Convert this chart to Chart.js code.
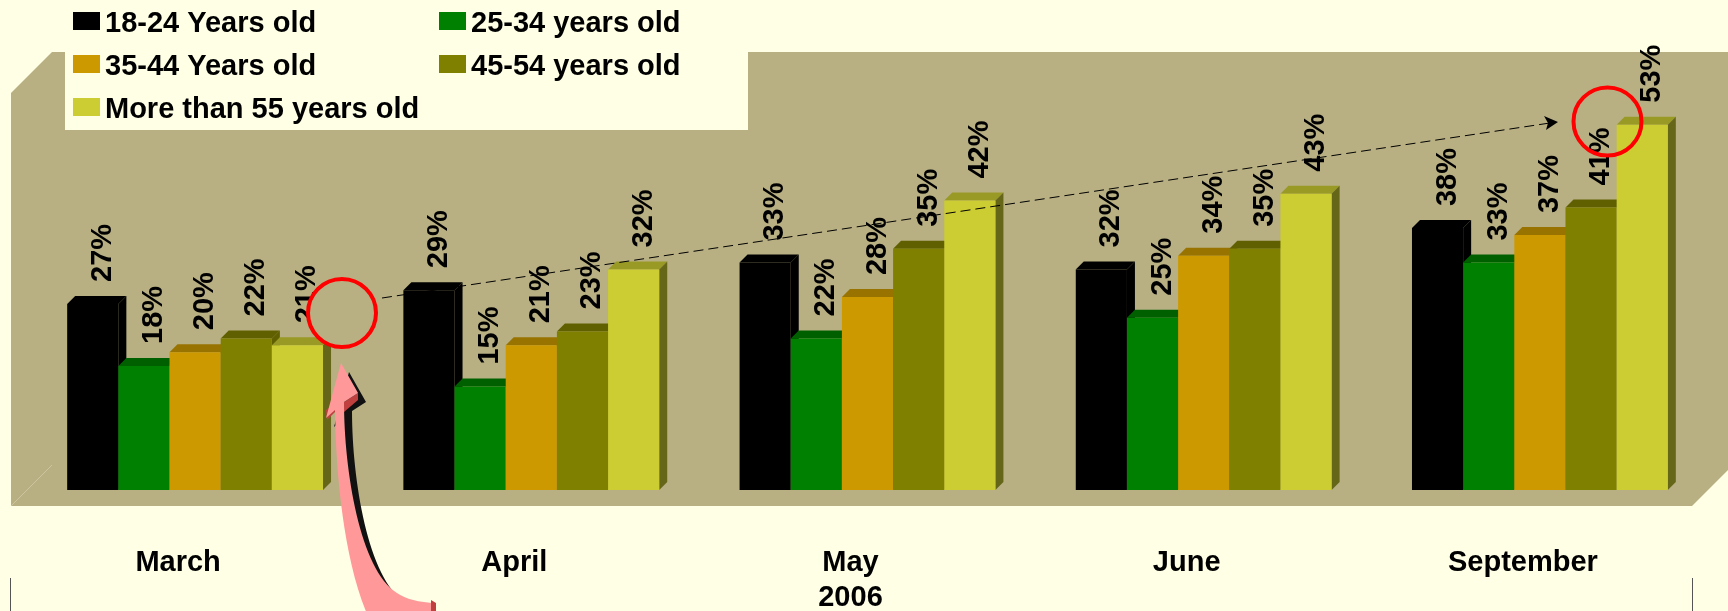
<!DOCTYPE html>
<html>
<head>
<meta charset="utf-8">
<title>Chart</title>
<script src="https://cdn.jsdelivr.net/npm/chart.js@4/dist/chart.umd.min.js"></script>
<style>
html, body { margin: 0; padding: 0; background: #FFFFE6; overflow: hidden; }
canvas { display: block; }
</style>
</head>
<body>
<canvas id="age-chart" width="1728" height="611"></canvas>
<script>
const categories = ['March', 'April', ['May', '2006'], 'June', 'September'];
const seriesNames = ['18-24 Years old', '25-34 years old', '35-44 Years old', '45-54 years old', 'More than 55 years old'];
const age18to24 = [27, 29, 33, 32, 38];
const age25to34 = [18, 15, 22, 25, 33];
const age35to44 = [20, 21, 28, 34, 37];
const age45to54 = [22, 23, 35, 35, 41];
const age55plus = [21, 32, 42, 43, 53];
const seriesValues = [age18to24, age25to34, age35to44, age45to54, age55plus];

const frontColors = ['#000000', '#008000', '#CC9900', '#808000', '#CCCC33'];
const topColors = ['#000000', '#006000', '#997300', '#606000', '#999926'];
const sideColors = ['#000000', '#006000', '#806000', '#606000', '#666619'];

const WALL = '#B8B083';
const PAPER = '#FFFFE6';
const DEPTH = 8;
const BOLD = 'bold 29px "Liberation Sans", Arial, sans-serif';

function poly(ctx, pts, fill) {
    ctx.beginPath();
    pts.forEach((p, i) => i ? ctx.lineTo(p[0], p[1]) : ctx.moveTo(p[0], p[1]));
    ctx.closePath();
    ctx.fillStyle = fill;
    ctx.fill();
}

// wall + floor behind the bars, then the legend box
const backdrop = {
    id: 'backdrop',
    beforeDatasetsDraw(chart) {
        const ctx = chart.ctx;
        poly(ctx, [[52, 52], [1728, 52], [1728, 470], [1692, 506], [11, 506], [11, 93]], WALL);
        ctx.strokeStyle = '#CCC6A0';
        ctx.lineWidth = 1;
        ctx.beginPath();
        ctx.moveTo(52, 465);
        ctx.lineTo(11, 506);
        ctx.stroke();
        ctx.fillStyle = PAPER;
        ctx.fillRect(65, 0, 683, 130);
    }
};

// fake 3d: chart.js paints datasets last to first, but here each series has to
// sit on top of the one to its left, so skip its pass and paint them in order
const depthBars = {
    id: 'depthBars',
    beforeDatasetDraw() {
        return false;
    },
    afterDatasetsDraw(chart) {
        const ctx = chart.ctx;
        chart.data.datasets.forEach((ds, i) => {
            const meta = chart.getDatasetMeta(i);
            meta.data.forEach(bar => {
                const l = bar.x - bar.width / 2;
                const r = bar.x + bar.width / 2;
                poly(ctx, [[l, bar.y], [l + DEPTH, bar.y - DEPTH], [r + DEPTH, bar.y - DEPTH], [r, bar.y]], topColors[i]);
                poly(ctx, [[r, bar.y], [r + DEPTH, bar.y - DEPTH], [r + DEPTH, bar.base - DEPTH], [r, bar.base]], sideColors[i]);
            });
            meta.controller.draw();
        });
    }
};

const valueLabels = {
    id: 'valueLabels',
    afterDatasetsDraw(chart) {
        const ctx = chart.ctx;
        chart.data.datasets.forEach((ds, i) => {
            chart.getDatasetMeta(i).data.forEach((bar, j) => {
                ctx.save();
                ctx.translate(bar.x + 10, bar.y - 22);
                ctx.rotate(-Math.PI / 2);
                ctx.font = 'bold 29px "Liberation Sans", Arial, sans-serif';
                ctx.fillStyle = '#000';
                ctx.textAlign = 'left';
                ctx.textBaseline = 'middle';
                ctx.fillText(ds.data[j] + '%', 0, 0);
                ctx.restore();
            });
        });
    }
};

const legendBox = {
    id: 'legendBox',
    afterDatasetsDraw(chart) {
        const ctx = chart.ctx;
        ctx.font = BOLD;
        ctx.textAlign = 'left';
        ctx.textBaseline = 'alphabetic';
        chart.data.datasets.forEach((ds, i) => {
            const col = i % 2;
            const row = Math.floor(i / 2);
            const x = col ? 439 : 73;
            const y = 12 + row * 43;
            ctx.fillStyle = ds.backgroundColor;
            ctx.fillRect(x, y, 27, 18);
            ctx.fillStyle = '#000';
            ctx.fillText(ds.label, x + 32, y + 20);
        });
    }
};

function ring(ctx, x, y, rx, ry, fill) {
    ctx.beginPath();
    ctx.ellipse(x, y, rx, ry, 0, 0, Math.PI * 2);
    if (fill) {
        ctx.fillStyle = fill;
        ctx.fill();
    }
    ctx.strokeStyle = '#FF0000';
    ctx.lineWidth = 4;
    ctx.stroke();
}

function curvedArrow(ctx, dx, dy, fill) {
    ctx.save();
    ctx.translate(dx, dy);
    ctx.beginPath();
    ctx.moveTo(341, 363);
    ctx.lineTo(358, 393);
    ctx.lineTo(344, 402);
    ctx.bezierCurveTo(344, 470, 360, 570, 397, 593);
    ctx.quadraticCurveTo(410, 602, 436, 603);
    ctx.lineTo(436, 625);
    ctx.lineTo(372, 625);
    ctx.bezierCurveTo(345, 570, 336, 480, 335, 410);
    ctx.lineTo(326, 418);
    ctx.closePath();
    ctx.fillStyle = fill;
    ctx.fill();
    ctx.restore();
}

// hand drawn notes on top of the chart
const callouts = {
    id: 'callouts',
    afterDraw(chart) {
        const ctx = chart.ctx;
        ctx.save();
        ctx.strokeStyle = '#000';
        ctx.lineWidth = 1;
        ctx.setLineDash([10, 5]);
        ctx.beginPath();
        ctx.moveTo(382, 298);
        ctx.lineTo(1550, 123);
        ctx.stroke();
        ctx.setLineDash([]);
        poly(ctx, [[1558, 122], [1544, 116], [1548, 123], [1546, 130]], '#000');

        ring(ctx, 342, 313, 34, 34, WALL);
        ring(ctx, 1607.5, 121.5, 34, 34, null);

        curvedArrow(ctx, 8, 9, '#111111');
        poly(ctx, [[358, 393], [344, 402], [344, 412], [358, 400]], '#C04040');
        poly(ctx, [[326, 410], [335, 403], [335, 412], [327, 420]], '#C04040');
        curvedArrow(ctx, 0, 0, '#FF9999');
        poly(ctx, [[431, 600], [436, 603], [436, 611], [431, 611]], '#C04040');

        ctx.strokeStyle = '#555';
        ctx.lineWidth = 1;
        ctx.beginPath();
        ctx.moveTo(10.5, 578);
        ctx.lineTo(10.5, 611);
        ctx.moveTo(1692.5, 578);
        ctx.lineTo(1692.5, 611);
        ctx.stroke();
        ctx.restore();
    }
};

new Chart(document.getElementById('age-chart').getContext('2d'), {
    type: 'bar',
    data: {
        labels: categories,
        datasets: seriesNames.map((name, i) => ({
            label: name,
            data: seriesValues[i],
            backgroundColor: frontColors[i],
            borderWidth: 0,
            categoryPercentage: 0.761,
            barPercentage: 1
        }))
    },
    options: {
        responsive: false,
        animation: false,
        layout: { padding: { left: 27, right: 20, top: 0, bottom: 0 } },
        plugins: {
            legend: { display: false },
            tooltip: { enabled: false }
        },
        scales: {
            x: {
                grid: { display: false },
                border: { display: false },
                afterFit: scale => { scale.height = 121; },
                ticks: {
                    color: '#000',
                    padding: 47,
                    labelOffset: -17,
                    maxRotation: 0,
                    autoSkip: false,
                    font: { family: '"Liberation Sans", Arial, sans-serif', size: 29, weight: 'bold', lineHeight: 1.22 }
                }
            },
            y: {
                display: false,
                min: 0,
                max: 71.1
            }
        }
    },
    plugins: [backdrop, depthBars, valueLabels, legendBox, callouts]
});
</script>
</body>
</html>
